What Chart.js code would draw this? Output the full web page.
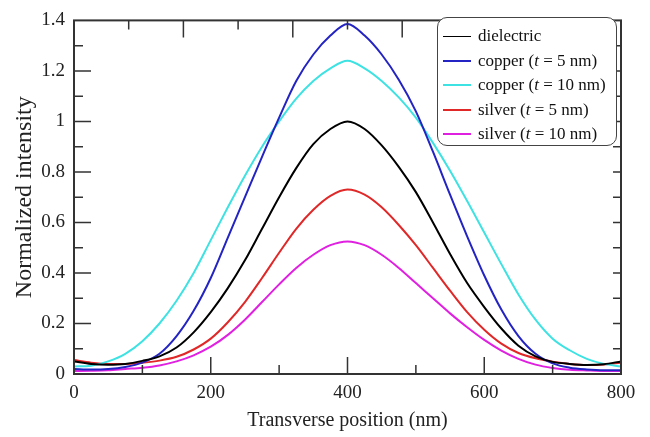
<!DOCTYPE html>
<html>
<head>
<meta charset="utf-8">
<script src="https://cdn.jsdelivr.net/npm/chart.js@4.4.1/dist/chart.umd.min.js"></script>
<style>
  body { margin: 0; background: #fff; }
  #wrap { position: relative; width: 650px; height: 437px; }
  #legend {
    position: absolute; left: 437px; top: 17px; width: 180px; height: 129px;
    border: 1.5px solid #444; border-radius: 10px; background: #fff;
    font-family: "Liberation Serif", serif; font-size: 17px; color: #111;
    box-sizing: border-box; padding-top: 6px;
  }
  .row { height: 24.5px; display: flex; align-items: center; white-space: nowrap; }
  .swatch { width: 28px; margin-left: 5px; margin-right: 7px; }
</style>
</head>
<body>
<div id="wrap">
  <canvas id="chart" width="650" height="437"></canvas>
  <div id="legend"></div>
</div>
<script>
// transverse position (nm)
const positions = [0, 25, 50, 75, 100, 125, 150, 175, 200, 225, 250, 275, 300, 325, 350, 375, 400,
  425, 450, 475, 500, 525, 550, 575, 600, 625, 650, 675, 700, 725, 750, 775, 800];

const dielectric = [0.05, 0.04, 0.037, 0.04, 0.052, 0.07, 0.105, 0.165, 0.245, 0.34, 0.45, 0.575, 0.7, 0.815, 0.91, 0.97, 1.0,
  0.97, 0.905, 0.82, 0.72, 0.6, 0.475, 0.36, 0.265, 0.18, 0.112, 0.07, 0.048, 0.04, 0.036, 0.039, 0.05];
const copper5 = [0.02, 0.018, 0.02, 0.028, 0.045, 0.08, 0.15, 0.25, 0.38, 0.54, 0.7, 0.86, 1.015, 1.16, 1.265, 1.34, 1.386,
  1.34, 1.265, 1.165, 1.04, 0.88, 0.71, 0.545, 0.39, 0.255, 0.15, 0.08, 0.042, 0.025, 0.018, 0.015, 0.015];
const copper10 = [0.03, 0.033, 0.05, 0.08, 0.13, 0.2, 0.29, 0.4, 0.53, 0.66, 0.785, 0.9, 1.0, 1.09, 1.16, 1.21, 1.24,
  1.21, 1.16, 1.095, 1.015, 0.915, 0.805, 0.685, 0.56, 0.435, 0.315, 0.215, 0.14, 0.094, 0.06, 0.04, 0.03];
const silver5 = [0.055, 0.045, 0.04, 0.04, 0.045, 0.053, 0.068, 0.097, 0.14, 0.205, 0.285, 0.38, 0.48, 0.575, 0.65, 0.705, 0.73,
  0.71, 0.66, 0.59, 0.51, 0.42, 0.33, 0.245, 0.175, 0.12, 0.083, 0.062, 0.049, 0.04, 0.036, 0.038, 0.045];
const silver10 = [0.012, 0.013, 0.015, 0.02, 0.025, 0.034, 0.05, 0.074, 0.108, 0.155, 0.215, 0.285, 0.355, 0.42, 0.472, 0.51, 0.525,
  0.51, 0.472, 0.42, 0.36, 0.3, 0.24, 0.185, 0.135, 0.093, 0.06, 0.037, 0.024, 0.017, 0.014, 0.012, 0.012];

const seriesNames = ["dielectric", "copper (<i>t</i> = 5 nm)", "copper (<i>t</i> = 10 nm)", "silver (<i>t</i> = 5 nm)", "silver (<i>t</i> = 10 nm)"];
const seriesColors = ["#000000", "#2424c4", "#3ee2e2", "#e02828", "#e020e0"];
const seriesValues = [dielectric, copper5, copper10, silver5, silver10];

// axis decoration
const xMajor = [200, 400, 600];
const xMinor = [100, 300, 500, 700];
const yMajor = [0.2, 0.4, 0.6, 0.8, 1.0, 1.2];
const yMinor = [0.1, 0.3, 0.5, 0.7, 0.9, 1.1, 1.3];
const topTicks = [80, 160, 240, 320, 400, 480, 560, 640, 720];
const rightTicks = [0.1, 0.2, 0.3, 0.4, 0.5, 0.6, 0.7, 0.8, 0.9, 1.0, 1.1, 1.2, 1.3];

var datasets = [];
for (var i = 0; i < seriesValues.length; i++) {
  datasets.push({
    label: seriesNames[i].replace(/<\/?i>/g, ""),
    data: positions.map((p, j) => ({ x: p, y: seriesValues[i][j] })),
    borderColor: seriesColors[i],
    borderWidth: 2,
    pointRadius: 0,
    cubicInterpolationMode: "monotone",
    fill: false,
  });
}

const frameTicks = {
  id: "frameTicks",
  afterDatasetsDraw(chart) {
    const ctx = chart.ctx;
    const a = chart.chartArea;
    const xs = chart.scales.x;
    const ys = chart.scales.y;
    ctx.save();
    ctx.strokeStyle = "#333";
    ctx.lineWidth = 1.5;
    ctx.beginPath();
    xMajor.forEach((v) => { var px = xs.getPixelForValue(v); ctx.moveTo(px, a.bottom); ctx.lineTo(px, a.bottom - 17); });
    xMinor.forEach((v) => { var px = xs.getPixelForValue(v); ctx.moveTo(px, a.bottom); ctx.lineTo(px, a.bottom - 9); });
    yMajor.forEach((v) => { var py = ys.getPixelForValue(v); ctx.moveTo(a.left, py); ctx.lineTo(a.left + 17, py); });
    yMinor.forEach((v) => { var py = ys.getPixelForValue(v); ctx.moveTo(a.left, py); ctx.lineTo(a.left + 9, py); });
    topTicks.forEach((v, k) => {
      var px = xs.getPixelForValue(v);
      ctx.moveTo(px, a.top); ctx.lineTo(px, a.top + (k % 2 == 1 ? 17 : 9));
    });
    rightTicks.forEach((v) => { var py = ys.getPixelForValue(v); ctx.moveTo(a.right, py); ctx.lineTo(a.right - 8, py); });
    ctx.stroke();
    ctx.lineWidth = 2;
    ctx.strokeRect(a.left, a.top, a.right - a.left, a.bottom - a.top);
    ctx.restore();
  },
};

const serif = "'Liberation Serif', 'Times New Roman', serif";

new Chart(document.getElementById("chart"), {
  type: "line",
  data: { datasets: datasets },
  options: {
    responsive: false,
    animation: false,
    layout: { padding: { left: 8, right: 29, top: 12, bottom: 0 } },
    plugins: { legend: { display: false }, tooltip: { enabled: false } },
    scales: {
      x: {
        type: "linear",
        min: 0,
        max: 800,
        grid: { display: false, drawTicks: false },
        border: { display: false },
        ticks: { stepSize: 200, padding: 8, color: "#222", font: { family: serif, size: 19 }, maxRotation: 0 },
        title: { display: true, text: "Transverse position (nm)", color: "#222", font: { family: serif, size: 20 }, padding: { top: 0, bottom: 4 } },
        afterFit: (s) => { s.height = 63; },
      },
      y: {
        min: 0,
        max: 1.4,
        grid: { display: false, drawTicks: false },
        border: { display: false },
        ticks: {
          stepSize: 0.2,
          padding: 9,
          color: "#222",
          font: { family: serif, size: 19 },
          callback: (v) => String(Math.round(v * 10) / 10),
        },
        title: { display: true, text: "Normalized intensity", color: "#222", font: { family: serif, size: 24 }, padding: { top: 2, bottom: 0 } },
        afterFit: (s) => { s.width = 66; },
      },
    },
  },
  plugins: [frameTicks],
});

// legend with italic t
var html = "";
for (var k = 0; k < seriesNames.length; k++) {
  var w = k == 0 ? 1 : 2;
  html += "<div class='row'><span class='swatch' style='border-top:" + w + "px solid " + seriesColors[k] + "'></span><span>" + seriesNames[k] + "</span></div>";
}
document.getElementById("legend").innerHTML = html;
</script>
</body>
</html>
